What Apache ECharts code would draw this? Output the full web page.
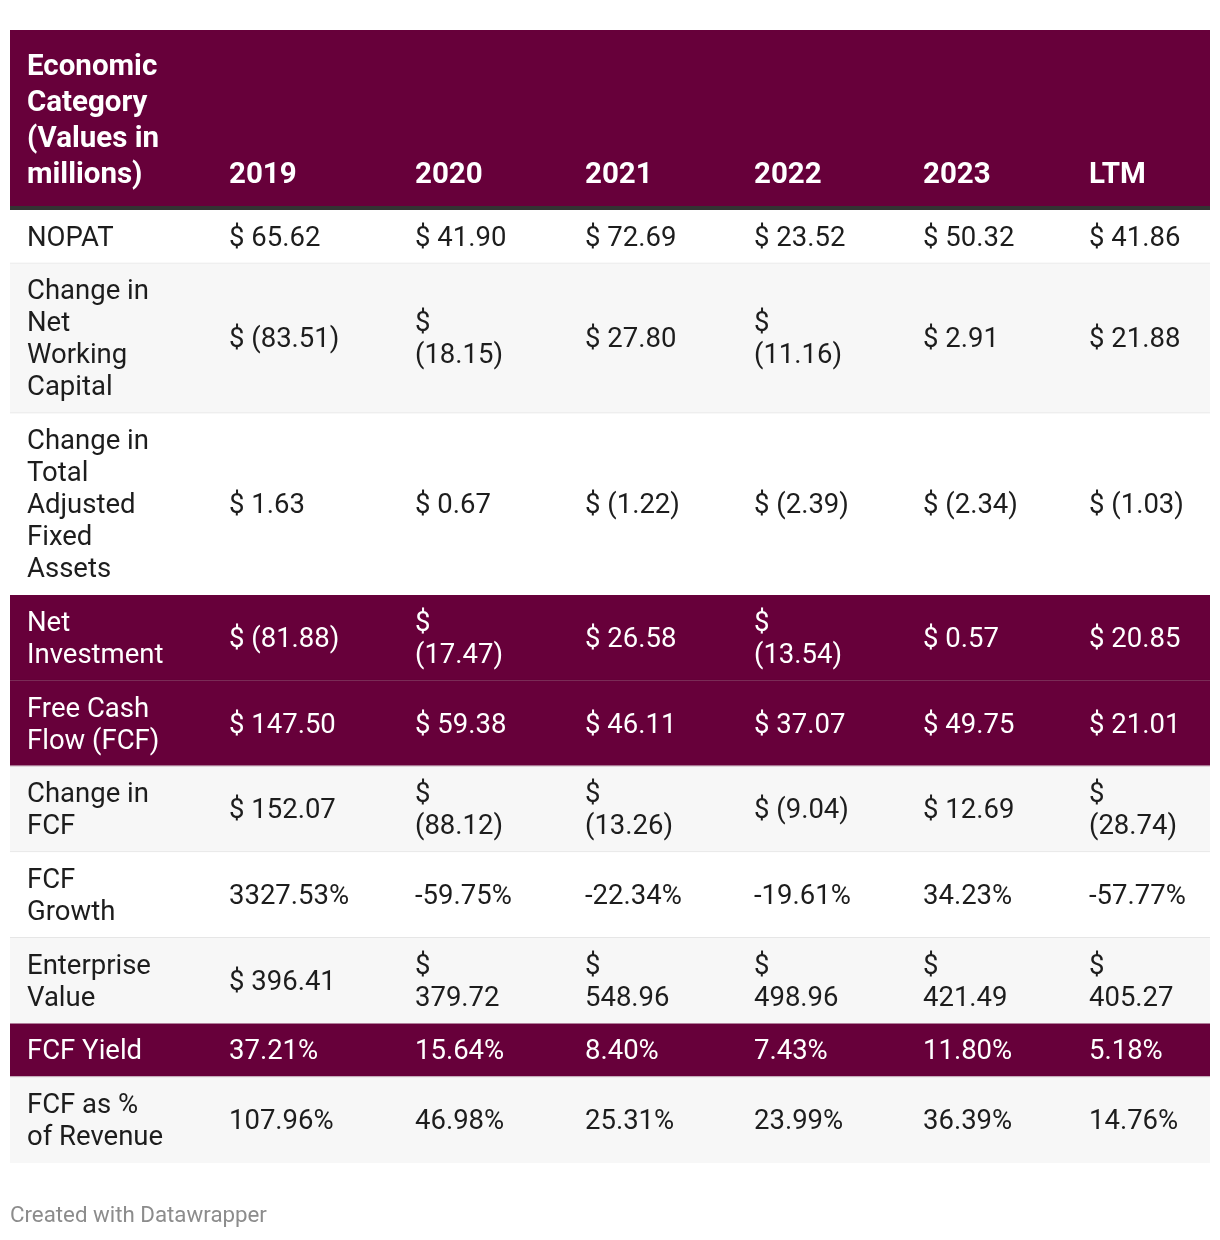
<!DOCTYPE html>
<html><head><meta charset="utf-8">
<script src="https://cdn.jsdelivr.net/npm/echarts@6/dist/echarts.min.js"></script>
<style>html,body{margin:0;padding:0;background:#fff}#chart{width:1220px;height:1240px}</style>
</head><body><div id="chart"></div>
<script>
// ---- data ----
const headerTitle = 'Economic\nCategory\n(Values in\nmillions)';
const periods = ['2019', '2020', '2021', '2022', '2023', 'LTM'];
const categories = [
  'NOPAT',
  'Change in\nNet\nWorking\nCapital',
  'Change in\nTotal\nAdjusted\nFixed\nAssets',
  'Net\nInvestment',
  'Free Cash\nFlow (FCF)',
  'Change in\nFCF',
  'FCF\nGrowth',
  'Enterprise\nValue',
  'FCF Yield',
  'FCF as %\nof Revenue'
];
const nopat           = [65.62, 41.90, 72.69, 23.52, 50.32, 41.86];
const changeNWC       = [-83.51, -18.15, 27.80, -11.16, 2.91, 21.88];
const changeTAFA      = [1.63, 0.67, -1.22, -2.39, -2.34, -1.03];
const netInvestment   = [-81.88, -17.47, 26.58, -13.54, 0.57, 20.85];
const freeCashFlow    = [147.50, 59.38, 46.11, 37.07, 49.75, 21.01];
const changeFCF       = [152.07, -88.12, -13.26, -9.04, 12.69, -28.74];
const fcfGrowth       = [3327.53, -59.75, -22.34, -19.61, 34.23, -57.77];
const enterpriseValue = [396.41, 379.72, 548.96, 498.96, 421.49, 405.27];
const fcfYield        = [37.21, 15.64, 8.40, 7.43, 11.80, 5.18];
const fcfPctRevenue   = [107.96, 46.98, 25.31, 23.99, 36.39, 14.76];
const rowValues = [nopat, changeNWC, changeTAFA, netInvestment, freeCashFlow, changeFCF, fcfGrowth, enterpriseValue, fcfYield, fcfPctRevenue];
const rowFormat = ['money','money','money','money','money','money','pct','money','pct','pct'];
const highlightRows = [3, 4, 8];

// ---- layout / style ----
const PURPLE = '#67003a', RULE = '#333333', STRIPE = '#f7f7f7', SEP = '#e6e6e6', TEXT = '#1d1d1d';
const FONT = 'Roboto';
const BODY_SIZE = 27.5, HEAD_SIZE = 29.5;
const TABLE_W = 1200;
const HEADER_H = 176, HEADER_RULE = 4, LINE_H = 32, ROW_PAD = 21.7, HEAD_LINE_H = 36;
const colTextX = [17, 219, 405, 575, 744, 913, 1079];
const colWrap = [0, 170, 102, 102, 102, 102, 102];
const rowLines = categories.map(c => c.split('\n').length);
const rowH = rowLines.map(n => n * LINE_H + ROW_PAD);
const rowTop = [];
let acc = HEADER_H + HEADER_RULE;
rowH.forEach(h => { rowTop.push(acc); acc += h; });
const TABLE_H = acc;

function fmt(v, kind) {
  if (kind === 'pct') return v.toFixed(2) + '%';
  return v < 0 ? '$ (' + Math.abs(v).toFixed(2) + ')' : '$ ' + v.toFixed(2);
}

function renderItem(params, api) {
  const idx = api.value(1);
  const children = [];
  const x0 = api.coord([0, 0])[0], x1 = api.coord([TABLE_W, 0])[0];
  if (idx === 0) {
    const yT = api.coord([0, 0])[1], yB = api.coord([0, HEADER_H])[1], yR = api.coord([0, HEADER_H + HEADER_RULE])[1];
    children.push({ type: 'rect', shape: { x: x0, y: yT, width: x1 - x0, height: yB - yT }, style: { fill: PURPLE } });
    children.push({ type: 'rect', shape: { x: x0, y: yB, width: x1 - x0, height: yR - yB }, style: { fill: RULE } });
    [headerTitle].concat(periods).forEach((t, c) => {
      children.push({ type: 'text', x: api.coord([colTextX[c], 0])[0], y: yB - 12.5,
        style: { text: t, fontFamily: FONT, fontSize: HEAD_SIZE, fontWeight: 'bold', fill: '#ffffff', lineHeight: HEAD_LINE_H, align: 'left', verticalAlign: 'bottom' } });
    });
  } else {
    const r = idx - 1;
    const hl = highlightRows.indexOf(r) >= 0;
    const nextHl = highlightRows.indexOf(r + 1) >= 0;
    const yT = api.coord([0, rowTop[r]])[1], yB = api.coord([0, rowTop[r] + rowH[r]])[1];
    const bg = hl ? PURPLE : (r % 2 === 1 ? STRIPE : '#ffffff');
    children.push({ type: 'rect', shape: { x: x0, y: yT, width: x1 - x0, height: yB - yT }, style: { fill: bg } });
    if (r < categories.length - 1 && !nextHl) {
      children.push({ type: 'rect', shape: { x: x0, y: yB - 1, width: x1 - x0, height: 1 }, style: { fill: SEP } });
    } else if (hl && nextHl) {
      children.push({ type: 'rect', shape: { x: x0, y: yB - 1, width: x1 - x0, height: 1 }, style: { fill: 'rgba(0,0,0,0.12)' } });
    }
    const yMid = (yT + yB - 1) / 2 + 2.5;
    const color = hl ? '#ffffff' : TEXT;
    children.push({ type: 'text', x: api.coord([colTextX[0], 0])[0], y: yMid,
      style: { text: categories[r], fontFamily: FONT, fontSize: BODY_SIZE, fill: color, lineHeight: LINE_H, align: 'left', verticalAlign: 'middle' } });
    rowValues[r].forEach((v, c) => {
      children.push({ type: 'text', x: api.coord([colTextX[c + 1], 0])[0], y: yMid,
        style: { text: fmt(v, rowFormat[r]), fontFamily: FONT, fontSize: BODY_SIZE, fill: color, lineHeight: LINE_H, align: 'left', verticalAlign: 'middle',
          width: colWrap[c + 1], overflow: 'break' } });
    });
  }
  return { type: 'group', children: children };
}

const data = [[0, 0]].concat(categories.map((c, i) => [0, i + 1]));

const chart = echarts.init(document.getElementById('chart'), null, { renderer: 'canvas' });
chart.setOption({
  animation: false,
  backgroundColor: '#ffffff',
  title: { text: 'Created with Datawrapper', left: 10, top: 1205, padding: 0,
    textStyle: { fontFamily: FONT, fontSize: 22.3, fontWeight: 'normal', color: '#8c8c8c' } },
  grid: { left: 10, top: 30, width: TABLE_W, height: TABLE_H },
  xAxis: { type: 'value', min: 0, max: TABLE_W, show: false },
  yAxis: { type: 'value', min: 0, max: TABLE_H, inverse: true, show: false },
  series: [{ type: 'custom', renderItem: renderItem, data: data, encode: { x: 0, y: 1 }, clip: false, silent: true }]
});
</script>
</body></html>
